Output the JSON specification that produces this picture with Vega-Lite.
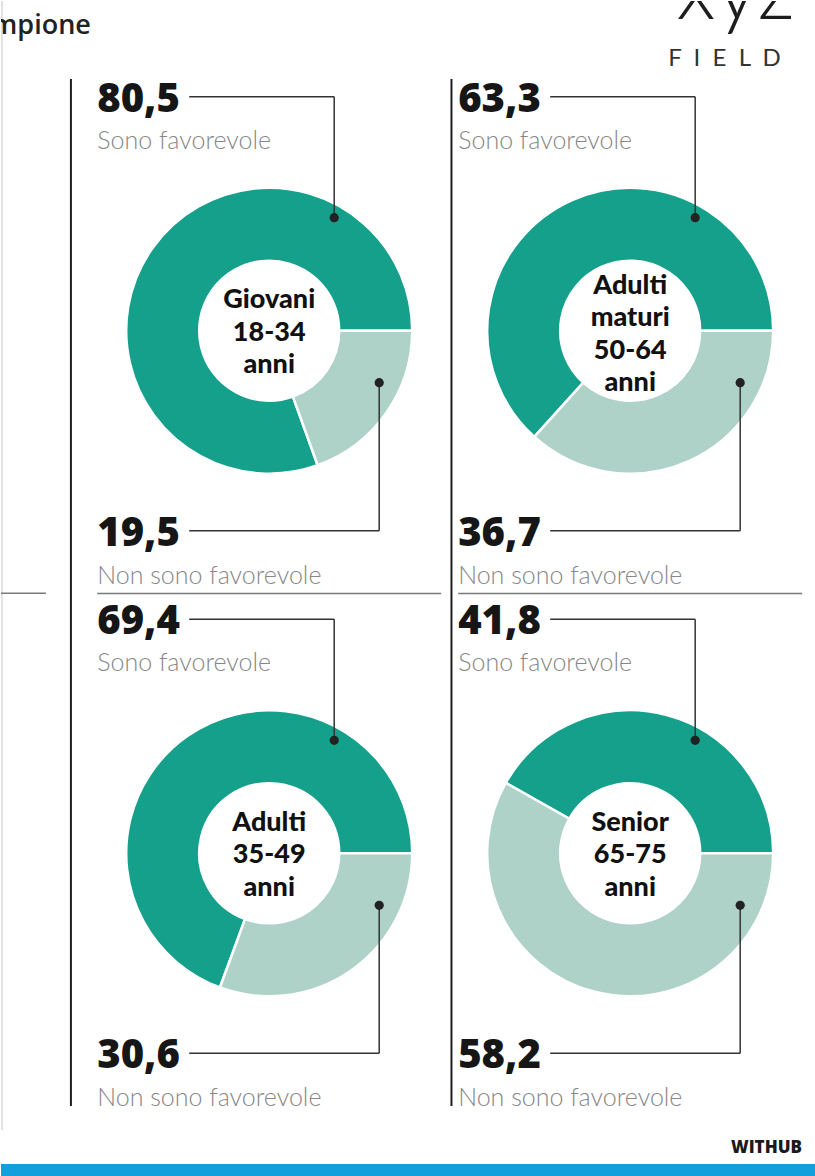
{
  "$schema": "https://vega.github.io/schema/vega-lite/v6.json",
  "width": 815,
  "height": 1176,
  "autosize": {"type": "fit", "contains": "padding"},
  "padding": 0,
  "background": "white",
  "config": {
    "view": {"stroke": null},
    "axis": {"disable": true},
    "legend": {"disable": true},
    "locale": {"number": {"decimal": ",", "thousands": ".", "grouping": [3], "currency": ["", " €"]}}
  },
  "data": {"values": [
    {"group": "Giovani\n18-34\nanni", "col": 1, "row": 1, "answer": "Sono favorevole", "value": 80.5},
    {"group": "Giovani\n18-34\nanni", "col": 1, "row": 1, "answer": "Non sono favorevole", "value": 19.5},
    {"group": "Adulti\nmaturi\n50-64\nanni", "col": 2, "row": 1, "answer": "Sono favorevole", "value": 63.3},
    {"group": "Adulti\nmaturi\n50-64\nanni", "col": 2, "row": 1, "answer": "Non sono favorevole", "value": 36.7},
    {"group": "Adulti\n35-49\nanni", "col": 1, "row": 2, "answer": "Sono favorevole", "value": 69.4},
    {"group": "Adulti\n35-49\nanni", "col": 1, "row": 2, "answer": "Non sono favorevole", "value": 30.6},
    {"group": "Senior\n65-75\nanni", "col": 2, "row": 2, "answer": "Sono favorevole", "value": 41.8},
    {"group": "Senior\n65-75\nanni", "col": 2, "row": 2, "answer": "Non sono favorevole", "value": 58.2}
  ]},
  "encoding": {
    "x": {"field": "col", "type": "quantitative", "scale": {"domain": [0.257, 2.512], "nice": false, "zero": false}, "axis": null},
    "y": {"field": "row", "type": "quantitative", "scale": {"domain": [0.369, 2.6176], "reverse": true, "nice": false, "zero": false}, "axis": null}
  },
  "layer": [
    {"transform": [{"filter": "datum.col == 1 && datum.row == 1 && datum.answer == 'Sono favorevole'"}],
     "mark": {"type": "rule", "color": "#d9d9d9", "strokeWidth": 1.5},
     "encoding": {"x": {"datum": 0.2598, "type": "quantitative"}, "y": {"datum": 0.369, "type": "quantitative"}, "y2": {"datum": 2.5297}}},
    {"transform": [{"filter": "datum.col == 1 && datum.row == 1 && datum.answer == 'Sono favorevole'"}],
     "mark": {"type": "rule", "color": "#1e1e1e", "strokeWidth": 2},
     "encoding": {"x": {"datum": 0.4507, "type": "quantitative"}, "y": {"datum": 0.5181, "type": "quantitative"}, "y2": {"datum": 2.4838}}},
    {"transform": [{"filter": "datum.col == 1 && datum.row == 1 && datum.answer == 'Sono favorevole'"}],
     "mark": {"type": "rule", "color": "#1e1e1e", "strokeWidth": 2},
     "encoding": {"x": {"datum": 1.5049, "type": "quantitative"}, "y": {"datum": 0.5181, "type": "quantitative"}, "y2": {"datum": 2.4838}}},
    {"transform": [{"filter": "datum.col == 1 && datum.row == 1 && datum.answer == 'Sono favorevole'"}],
     "mark": {"type": "rule", "color": "#7a7a7a", "strokeWidth": 1.5},
     "encoding": {"x": {"datum": 0.257, "type": "quantitative"}, "x2": {"datum": 0.3815}, "y": {"datum": 1.5023, "type": "quantitative"}}},
    {"transform": [{"filter": "datum.row == 1 && datum.answer == 'Sono favorevole'"}],
     "mark": {"type": "rule", "color": "#7a7a7a", "strokeWidth": 1.5, "xOffset": -172, "x2Offset": 172, "yOffset": 262.7, "y2Offset": 262.7},
     "encoding": {"x2": {"field": "col"}, "y2": {"field": "row"}}},
    {"transform": [{"stack": "value", "groupby": ["group"], "sort": [{"field": "answer", "order": "ascending"}], "as": ["v0", "v1"]}],
     "mark": {"type": "arc", "innerRadius": 70, "outerRadius": 143, "stroke": "white", "strokeWidth": 2.5},
     "encoding": {
       "theta": {"field": "v0", "type": "quantitative", "scale": {"domain": [0, 100], "range": [1.5707963, 7.8539816]}},
       "theta2": {"field": "v1"},
       "color": {"field": "answer", "type": "nominal", "scale": {"domain": ["Sono favorevole", "Non sono favorevole"], "range": ["#15a08b", "#aed1c8"]}, "legend": null}
     }},
    {"transform": [{"filter": "datum.answer == 'Sono favorevole'"}],
     "mark": {"type": "rule", "color": "#333333", "strokeWidth": 1.5, "xOffset": -80, "x2Offset": 65, "yOffset": -234, "y2Offset": -234},
     "encoding": {"x2": {"field": "col"}, "y2": {"field": "row"}}},
    {"transform": [{"filter": "datum.answer == 'Sono favorevole'"}],
     "mark": {"type": "rule", "color": "#333333", "strokeWidth": 1.5, "xOffset": 65, "yOffset": -234, "y2Offset": -113},
     "encoding": {"y2": {"field": "row"}}},
    {"transform": [{"filter": "datum.answer == 'Sono favorevole'"}],
     "mark": {"type": "point", "filled": true, "size": 85, "color": "#222222", "opacity": 1, "xOffset": 65, "yOffset": -113}},
    {"transform": [{"filter": "datum.answer == 'Non sono favorevole'"}],
     "mark": {"type": "rule", "color": "#333333", "strokeWidth": 1.5, "xOffset": -80, "x2Offset": 110, "yOffset": 200, "y2Offset": 200},
     "encoding": {"x2": {"field": "col"}, "y2": {"field": "row"}}},
    {"transform": [{"filter": "datum.answer == 'Non sono favorevole'"}],
     "mark": {"type": "rule", "color": "#333333", "strokeWidth": 1.5, "xOffset": 110, "yOffset": 200, "y2Offset": 52},
     "encoding": {"y2": {"field": "row"}}},
    {"transform": [{"filter": "datum.answer == 'Non sono favorevole'"}],
     "mark": {"type": "point", "filled": true, "size": 85, "color": "#222222", "opacity": 1, "xOffset": 110, "yOffset": 52}},
    {"transform": [{"filter": "datum.answer == 'Sono favorevole'"}],
     "mark": {"type": "text", "align": "left", "baseline": "alphabetic", "dx": -172, "dy": -219, "font": "Open Sans", "fontSize": 40, "fontWeight": 800, "color": "#161616"},
     "encoding": {"text": {"field": "value", "type": "quantitative", "format": ".1f"}}},
    {"transform": [{"filter": "datum.answer == 'Sono favorevole'"}],
     "mark": {"type": "text", "align": "left", "baseline": "alphabetic", "dx": -172, "dy": -182, "font": "Lato", "fontSize": 25, "fontWeight": 300, "color": "#878787"},
     "encoding": {"text": {"field": "answer", "type": "nominal"}}},
    {"transform": [{"filter": "datum.answer == 'Non sono favorevole'"}],
     "mark": {"type": "text", "align": "left", "baseline": "alphabetic", "dx": -172, "dy": 215, "font": "Open Sans", "fontSize": 40, "fontWeight": 800, "color": "#161616"},
     "encoding": {"text": {"field": "value", "type": "quantitative", "format": ".1f"}}},
    {"transform": [{"filter": "datum.answer == 'Non sono favorevole'"}],
     "mark": {"type": "text", "align": "left", "baseline": "alphabetic", "dx": -172, "dy": 253, "font": "Lato", "fontSize": 25, "fontWeight": 300, "color": "#878787"},
     "encoding": {"text": {"field": "answer", "type": "nominal"}}},
    {"transform": [{"filter": "datum.answer == 'Sono favorevole' && datum.col == 2 && datum.row == 1"}],
     "mark": {"type": "text", "align": "center", "baseline": "middle", "dy": -45, "lineBreak": "\n", "lineHeight": 32.5, "font": "Lato", "fontSize": 27, "fontWeight": 900, "color": "#111111"},
     "encoding": {"text": {"field": "group", "type": "nominal"}}},
    {"transform": [{"filter": "datum.answer == 'Sono favorevole' && !(datum.col == 2 && datum.row == 1)"}],
     "mark": {"type": "text", "align": "center", "baseline": "middle", "dy": -30.5, "lineBreak": "\n", "lineHeight": 32.5, "font": "Lato", "fontSize": 27, "fontWeight": 900, "color": "#111111"},
     "encoding": {"text": {"field": "group", "type": "nominal"}}},
    {"transform": [{"filter": "datum.col == 1 && datum.row == 1 && datum.answer == 'Sono favorevole'"}],
     "mark": {"type": "text", "text": "campione", "align": "right", "baseline": "alphabetic", "font": "Open Sans", "fontSize": 27, "fontWeight": 600, "color": "#222222", "clip": true},
     "encoding": {"x": {"datum": 0.506, "type": "quantitative"}, "y": {"datum": 0.4321, "type": "quantitative"}}},
    {"transform": [{"filter": "datum.col == 1 && datum.row == 1 && datum.answer == 'Sono favorevole'"}],
     "mark": {"type": "text", "text": "xyz", "align": "right", "baseline": "alphabetic", "font": "Lato", "fontSize": 84, "fontWeight": 300, "color": "#1e1e1e", "clip": true},
     "encoding": {"x": {"datum": 2.4567, "type": "quantitative"}, "y": {"datum": 0.4034, "type": "quantitative"}}},
    {"transform": [{"filter": "datum.col == 1 && datum.row == 1 && datum.answer == 'Sono favorevole'"}],
     "mark": {"type": "text", "text": "F\u00a0\u00a0I\u00a0\u00a0E\u00a0\u00a0L\u00a0\u00a0D", "align": "left", "baseline": "alphabetic", "font": "Lato", "fontSize": 24, "fontWeight": 400, "color": "#333333", "clip": true},
     "encoding": {"x": {"datum": 2.1053, "type": "quantitative"}, "y": {"datum": 0.4933, "type": "quantitative"}}},
    {"transform": [{"filter": "datum.col == 1 && datum.row == 1 && datum.answer == 'Sono favorevole'"}],
     "mark": {"type": "text", "text": "WITHUB", "align": "right", "baseline": "alphabetic", "font": "Open Sans", "fontSize": 17, "fontWeight": 800, "color": "#1a1a1a", "clip": true},
     "encoding": {"x": {"datum": 2.476, "type": "quantitative"}, "y": {"datum": 2.5736, "type": "quantitative"}}},
    {"transform": [{"filter": "datum.col == 1 && datum.row == 1 && datum.answer == 'Sono favorevole'"}],
     "mark": {"type": "rect", "color": "#129fdb"},
     "encoding": {"x": {"datum": 0.257, "type": "quantitative"}, "x2": {"datum": 2.512}, "y": {"datum": 2.5947, "type": "quantitative"}, "y2": {"datum": 2.6176}}}
  ]
}
